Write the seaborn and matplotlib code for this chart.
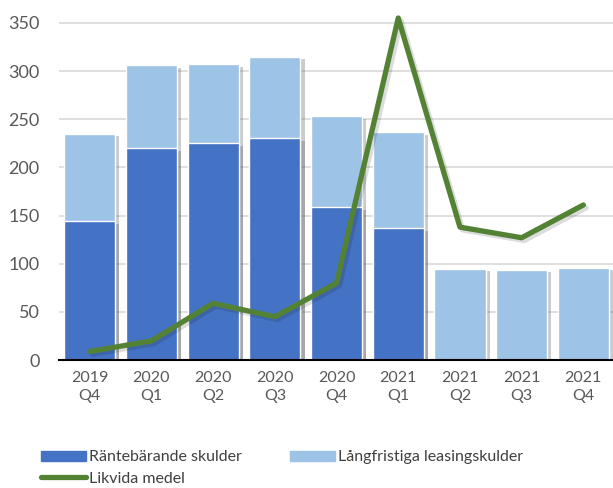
import numpy as np
import pandas as pd
import seaborn as sns
import matplotlib.pyplot as plt
import matplotlib.patheffects as pe
from matplotlib.patches import Patch
from matplotlib.lines import Line2D

sns.set_theme(style="white")
plt.rcParams['font.family'] = ['Lato', 'DejaVu Sans']

quarters = ["2019\nQ4", "2020\nQ1", "2020\nQ2", "2020\nQ3", "2020\nQ4",
            "2021\nQ1", "2021\nQ2", "2021\nQ3", "2021\nQ4"]
rantebarande = [144, 220, 225, 230, 159, 137, 0, 0, 0]
leasing = [91, 86, 82, 85, 94, 100, 95, 94, 96]
likvida = [9, 20, 59, 45, 80, 355, 138, 127, 161]

df = pd.DataFrame({"q": quarters, "r": rantebarande, "l": leasing, "m": likvida})
df["total"] = df["r"] + df["l"]

dark = "#4472C4"
light = "#9DC3E6"
green = "#548235"

fig = plt.figure(figsize=(6.13, 4.88), dpi=100)
ax = fig.add_axes([0.096, 0.262, 0.906, 0.711])

sns.barplot(data=df, x="q", y="total", color=light, width=0.83, saturation=1, ax=ax, zorder=2)
sns.barplot(data=df, x="q", y="r", color=dark, width=0.83, saturation=1, ax=ax, zorder=2)
for p in ax.patches:
    p.set_path_effects([pe.SimplePatchShadow(offset=(3, -2), alpha=0.3, shadow_rgbFace="#555555"), pe.Normal()])

sns.lineplot(x=np.arange(len(likvida)), y=likvida, color=green, linewidth=3.8,
             ax=ax, sort=False, zorder=4, clip_on=False)
ax.lines[-1].set_solid_capstyle("round")
ax.lines[-1].set_path_effects([pe.SimpleLineShadow(offset=(2, -2), alpha=0.15), pe.Normal()])

ax.set_ylim(0, 360)
ax.set_xlim(-0.5, 8.5)
ax.set_yticks(range(0, 351, 50))
ax.yaxis.grid(True, color="#D9D9D9", linewidth=1.2, zorder=0)
ax.set_axisbelow(True)
for s in ["top", "right", "left"]:
    ax.spines[s].set_visible(False)
ax.spines["bottom"].set_color("black")
ax.spines["bottom"].set_linewidth(1.5)
ax.spines["bottom"].set_zorder(5)
ax.tick_params(axis="x", length=0, labelsize=11.5, labelcolor="#595959", pad=8)
ax.tick_params(axis="y", length=0, labelsize=13, labelcolor="#595959", pad=14)
ax.set_xlabel("")
ax.set_ylabel("")
for t in ax.get_xticklabels():
    t.set_linespacing(1.3)

handles = [Patch(color=dark), Line2D([], [], color=green, linewidth=3.8, solid_capstyle="round"),
           Patch(color=light)]
labels = ["Räntebärande skulder", "Likvida medel", "Långfristiga leasingskulder"]
fig.legend(handles, labels, ncol=2, loc="upper left",
           bbox_to_anchor=(0.057, 0.09), frameon=False, fontsize=11.5,
           handlelength=2.8, handleheight=0.6, handletextpad=0.2, columnspacing=3.0,
           labelspacing=0.45, borderaxespad=0, labelcolor="#404040")

fig.savefig("out.png", dpi=100)
